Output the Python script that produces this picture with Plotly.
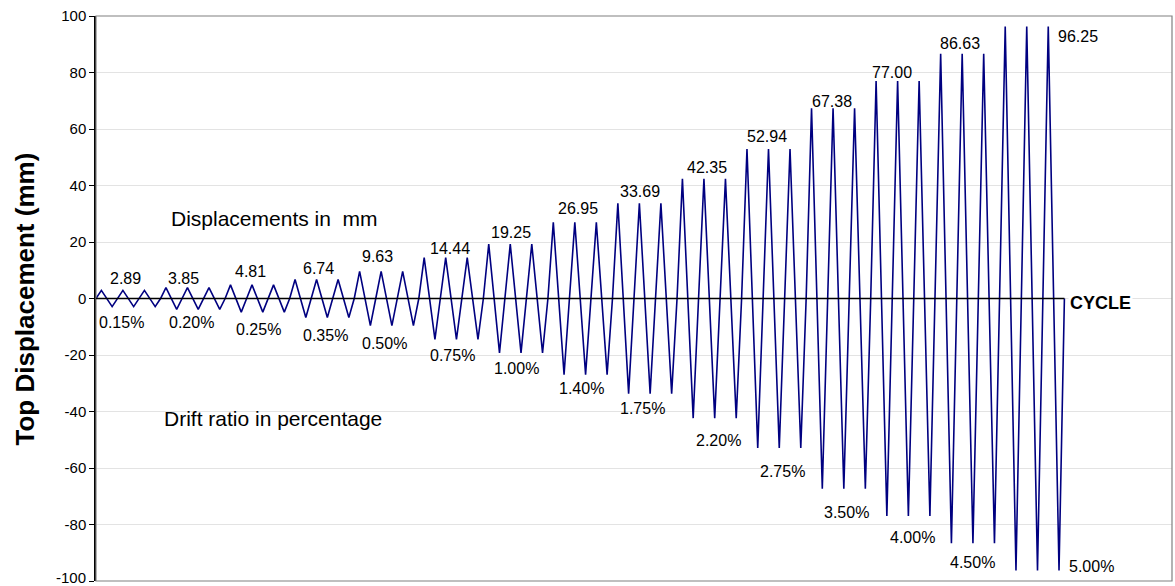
import plotly.graph_objects as go

# ---- data ----
amplitudes_mm = [2.89, 3.85, 4.81, 6.74, 9.63, 14.44, 19.25, 26.95, 33.69,
                 42.35, 52.94, 67.38, 77.00, 86.63, 96.25]
drift_pct = ["0.15%", "0.20%", "0.25%", "0.35%", "0.50%", "0.75%", "1.00%",
             "1.40%", "1.75%", "2.20%", "2.75%", "3.50%", "4.00%", "4.50%", "5.00%"]
amp_labels = ["2.89", "3.85", "4.81", "6.74", "9.63", "14.44", "19.25", "26.95",
              "33.69", "42.35", "52.94", "67.38", "77.00", "86.63", "96.25"]
cycles_per_level = 3
y_ticks = [100, 80, 60, 40, 20, 0, -20, -40, -60, -80, -100]

# label placements (x in cycles, y in mm)
amp_label_x = [1.37, 4.08, 7.16, 10.33, 13.08, 16.46, 19.27, 22.41, 25.26,
               28.39, 31.18, 34.19, 37.01, 40.15, 45.61]
amp_label_y = [7.1, 7.1, 9.4, 10.7, 15.0, 17.8, 23.4, 31.7, 38.0,
               46.4, 57.2, 69.9, 79.9, 90.4, 92.9]
pct_label_x = [1.18, 4.43, 7.53, 10.67, 13.42, 16.58, 19.52, 22.54, 25.39,
               28.92, 31.91, 34.88, 37.95, 40.74, 46.27]
pct_label_y = [-8.5, -8.5, -11.0, -13.2, -15.8, -20.0, -24.8, -32.0, -39.1,
               -50.1, -61.2, -75.6, -84.6, -93.3, -94.9]

# ---- build the triangular loading history ----
xs, ys = [0.0], [0.0]
c = 0
for a in amplitudes_mm:
    for _ in range(cycles_per_level):
        xs += [c + 0.25, c + 0.75, c + 1.0]
        ys += [a, -a, 0.0]
        c += 1
n_cycles = c

FONT = "Arial, Liberation Sans, sans-serif"

fig = go.Figure()
fig.add_trace(go.Scatter(x=xs, y=ys, mode="lines",
                         line=dict(color="#000080", width=1.6),
                         hoverinfo="skip", showlegend=False))

annotations = []
for lab, x, y in zip(amp_labels, amp_label_x, amp_label_y):
    annotations.append(dict(x=x, y=y, text=lab, showarrow=False,
                            xanchor="center", yanchor="middle",
                            font=dict(family=FONT, size=16, color="black")))
for lab, x, y in zip(drift_pct, pct_label_x, pct_label_y):
    annotations.append(dict(x=x, y=y, text=lab, showarrow=False,
                            xanchor="center", yanchor="middle",
                            font=dict(family=FONT, size=16, color="black")))
annotations.append(dict(x=3.39, y=28.3, text="Displacements in&nbsp;&nbsp;mm", showarrow=False,
                        xanchor="left", yanchor="middle",
                        font=dict(family=FONT, size=21, color="black")))
annotations.append(dict(x=3.05, y=-42.6, text="Drift ratio in percentage", showarrow=False,
                        xanchor="left", yanchor="middle",
                        font=dict(family=FONT, size=21, color="black")))
annotations.append(dict(x=45.17, y=-1.6, text="<b>CYCLE</b>", showarrow=False,
                        xanchor="left", yanchor="middle", bgcolor="white",
                        font=dict(family=FONT, size=18, color="black")))
annotations.append(dict(x=-0.066, y=0.5, xref="paper", yref="paper",
                        text="<b>Top Displacement (mm)</b>", textangle=-90,
                        showarrow=False, xanchor="center", yanchor="middle",
                        font=dict(family=FONT, size=26, color="black")))
# bottom tick label, nudged up so it stays fully on the page
annotations.append(dict(x=0, y=y_ticks[-1], xref="paper", yref="y",
                        text=str(y_ticks[-1]), showarrow=False,
                        xanchor="right", yanchor="middle", xshift=-8, yshift=4,
                        font=dict(family=FONT, size=15, color="black")))

shapes = [
    dict(type="rect", xref="paper", yref="paper", x0=0, y0=0, x1=1, y1=1,
         line=dict(color="#808080", width=1.2), layer="above"),
    dict(type="line", xref="x", yref="y", x0=0, x1=n_cycles, y0=0, y1=0,
         line=dict(color="black", width=1.5), layer="above"),
]

fig.update_layout(
    width=1175, height=586,
    margin=dict(l=96, r=3, t=16, b=5),
    paper_bgcolor="white", plot_bgcolor="white",
    annotations=annotations, shapes=shapes,
    showlegend=False,
)
fig.update_xaxes(range=[0, 50], visible=False, showgrid=False, zeroline=False)
fig.update_yaxes(range=[-100, 100], tickvals=y_ticks, ticktext=[str(v) for v in y_ticks],
                 showgrid=True, gridcolor="#e3e3e3", gridwidth=1, zeroline=False,
                 showline=True, linecolor="black", linewidth=1.5,
                 ticks="outside", ticklen=5, tickcolor="black",
                 tickfont=dict(family=FONT, size=15, color="black"))

fig.write_html("out.html", config={"displayModeBar": False},
               post_script="document.body.style.margin='0';document.body.style.overflow='hidden';")
